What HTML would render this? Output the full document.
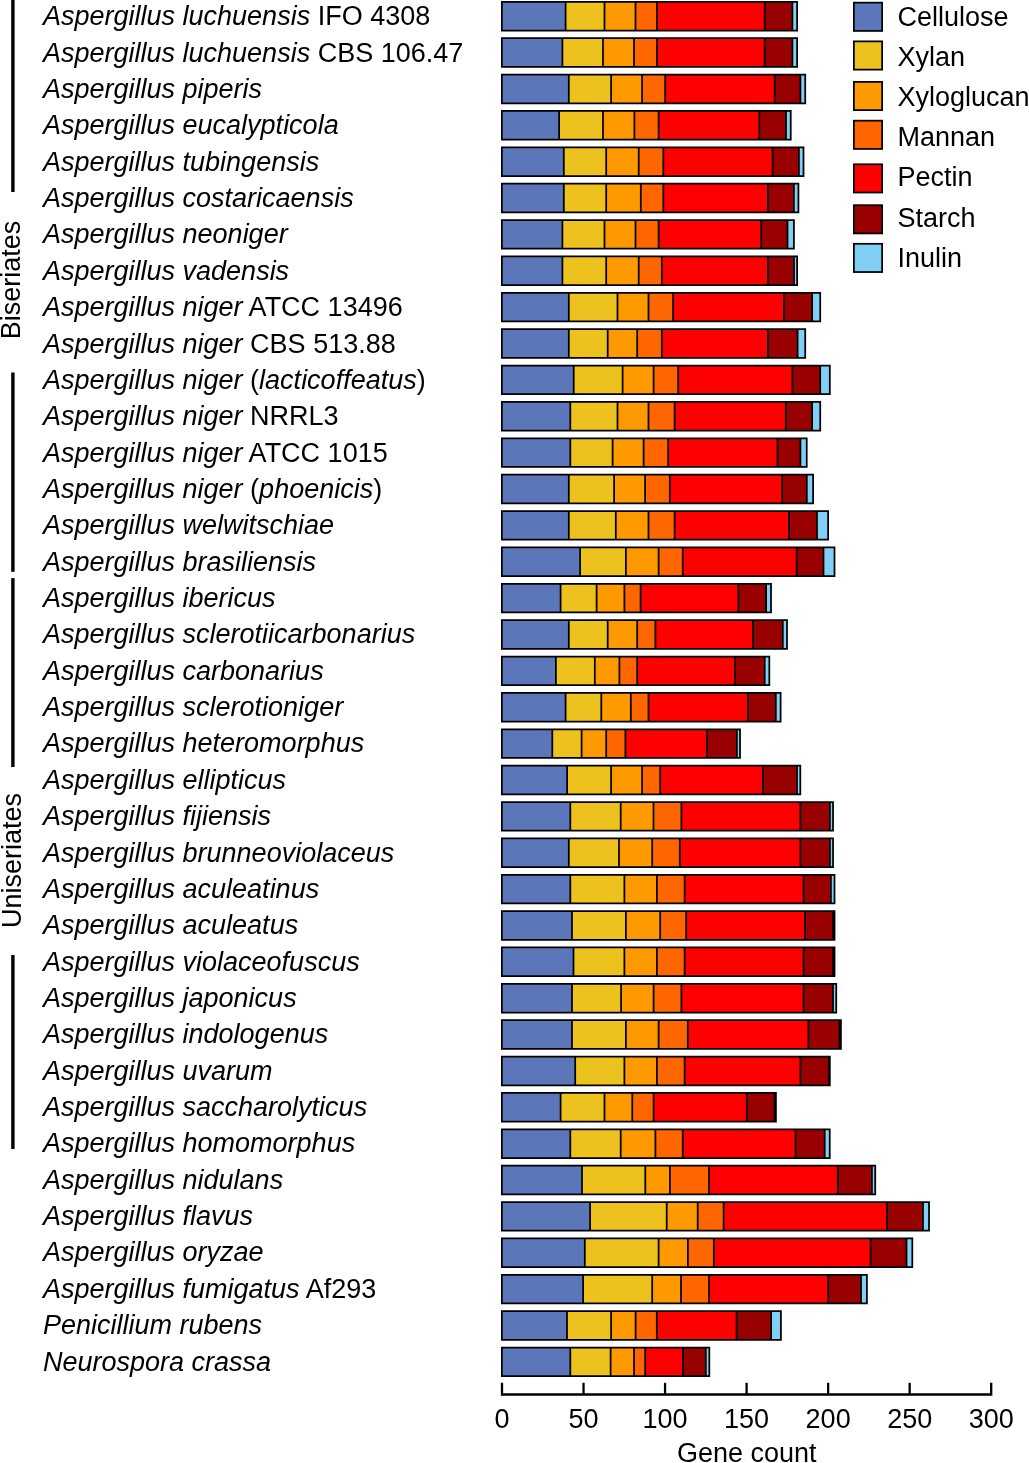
<!DOCTYPE html>
<html><head><meta charset="utf-8"><style>
html,body{margin:0;padding:0;background:#fff;}
svg{display:block;will-change:transform;}
text{font-family:"Liberation Sans",sans-serif;font-size:27px;fill:#000;}
.i{font-style:italic;}
</style></head><body>
<svg width="1029" height="1463" viewBox="0 0 1029 1463">

<rect x="11.2" y="0" width="3.4" height="192.0" fill="#000"/>
<rect x="11.2" y="372.5" width="3.4" height="199.3" fill="#000"/>
<rect x="11.2" y="578.1" width="3.4" height="188.9" fill="#000"/>
<rect x="11.2" y="955.0" width="3.4" height="194.0" fill="#000"/>
<text transform="translate(20,339.3) rotate(-90)">Biseriates</text>
<text transform="translate(20.5,928) rotate(-90)">Uniseriates</text>
<text x="43" y="25.30"><tspan class="i">Aspergillus luchuensis</tspan> IFO 4308</text>
<text x="43" y="61.66"><tspan class="i">Aspergillus luchuensis</tspan> CBS 106.47</text>
<text x="43" y="98.01" class="i">Aspergillus piperis</text>
<text x="43" y="134.37" class="i">Aspergillus eucalypticola</text>
<text x="43" y="170.73" class="i">Aspergillus tubingensis</text>
<text x="43" y="207.09" class="i">Aspergillus costaricaensis</text>
<text x="43" y="243.44" class="i">Aspergillus neoniger</text>
<text x="43" y="279.80" class="i">Aspergillus vadensis</text>
<text x="43" y="316.16"><tspan class="i">Aspergillus niger</tspan> ATCC 13496</text>
<text x="43" y="352.51"><tspan class="i">Aspergillus niger</tspan> CBS 513.88</text>
<text x="43" y="388.87"><tspan class="i">Aspergillus niger</tspan> (<tspan class="i">lacticoffeatus</tspan>)</text>
<text x="43" y="425.23"><tspan class="i">Aspergillus niger</tspan> NRRL3</text>
<text x="43" y="461.58"><tspan class="i">Aspergillus niger</tspan> ATCC 1015</text>
<text x="43" y="497.94"><tspan class="i">Aspergillus niger</tspan> (<tspan class="i">phoenicis</tspan>)</text>
<text x="43" y="534.30" class="i">Aspergillus welwitschiae</text>
<text x="43" y="570.65" class="i">Aspergillus brasiliensis</text>
<text x="43" y="607.01" class="i">Aspergillus ibericus</text>
<text x="43" y="643.37" class="i">Aspergillus sclerotiicarbonarius</text>
<text x="43" y="679.73" class="i">Aspergillus carbonarius</text>
<text x="43" y="716.08" class="i">Aspergillus sclerotioniger</text>
<text x="43" y="752.44" class="i">Aspergillus heteromorphus</text>
<text x="43" y="788.80" class="i">Aspergillus ellipticus</text>
<text x="43" y="825.15" class="i">Aspergillus fijiensis</text>
<text x="43" y="861.51" class="i">Aspergillus brunneoviolaceus</text>
<text x="43" y="897.87" class="i">Aspergillus aculeatinus</text>
<text x="43" y="934.22" class="i">Aspergillus aculeatus</text>
<text x="43" y="970.58" class="i">Aspergillus violaceofuscus</text>
<text x="43" y="1006.94" class="i">Aspergillus japonicus</text>
<text x="43" y="1043.30" class="i">Aspergillus indologenus</text>
<text x="43" y="1079.65" class="i">Aspergillus uvarum</text>
<text x="43" y="1116.01" class="i">Aspergillus saccharolyticus</text>
<text x="43" y="1152.37" class="i">Aspergillus homomorphus</text>
<text x="43" y="1188.72" class="i">Aspergillus nidulans</text>
<text x="43" y="1225.08" class="i">Aspergillus flavus</text>
<text x="43" y="1261.44" class="i">Aspergillus oryzae</text>
<text x="43" y="1297.79"><tspan class="i">Aspergillus fumigatus</tspan> Af293</text>
<text x="43" y="1334.15" class="i">Penicillium rubens</text>
<text x="43" y="1370.51" class="i">Neurospora crassa</text>
<rect x="501.88" y="1.88" width="63.73" height="28.65" fill="#5b77b9"/>
<rect x="565.60" y="1.88" width="38.90" height="28.65" fill="#edc21e"/>
<rect x="604.50" y="1.88" width="31.00" height="28.65" fill="#ff9900"/>
<rect x="635.50" y="1.88" width="21.40" height="28.65" fill="#ff6600"/>
<rect x="656.90" y="1.88" width="107.80" height="28.65" fill="#fe0000"/>
<rect x="764.70" y="1.88" width="27.70" height="28.65" fill="#990000"/>
<rect x="792.40" y="1.88" width="4.73" height="28.65" fill="#82cff5"/>
<path d="M501.88,1.88H797.12V30.52H501.88ZM565.60,1.88V30.52M604.50,1.88V30.52M635.50,1.88V30.52M656.90,1.88V30.52M764.70,1.88V30.52M792.40,1.88V30.52" fill="none" stroke="#000" stroke-width="1.75"/>
<rect x="501.88" y="38.24" width="60.52" height="28.65" fill="#5b77b9"/>
<rect x="562.40" y="38.24" width="40.60" height="28.65" fill="#edc21e"/>
<rect x="603.00" y="38.24" width="31.00" height="28.65" fill="#ff9900"/>
<rect x="634.00" y="38.24" width="22.90" height="28.65" fill="#ff6600"/>
<rect x="656.90" y="38.24" width="107.80" height="28.65" fill="#fe0000"/>
<rect x="764.70" y="38.24" width="27.70" height="28.65" fill="#990000"/>
<rect x="792.40" y="38.24" width="4.73" height="28.65" fill="#82cff5"/>
<path d="M501.88,38.24H797.12V66.89H501.88ZM562.40,38.24V66.89M603.00,38.24V66.89M634.00,38.24V66.89M656.90,38.24V66.89M764.70,38.24V66.89M792.40,38.24V66.89" fill="none" stroke="#000" stroke-width="1.75"/>
<rect x="501.88" y="74.61" width="66.92" height="28.65" fill="#5b77b9"/>
<rect x="568.80" y="74.61" width="42.30" height="28.65" fill="#edc21e"/>
<rect x="611.10" y="74.61" width="31.00" height="28.65" fill="#ff9900"/>
<rect x="642.10" y="74.61" width="23.10" height="28.65" fill="#ff6600"/>
<rect x="665.20" y="74.61" width="109.50" height="28.65" fill="#fe0000"/>
<rect x="774.70" y="74.61" width="25.70" height="28.65" fill="#990000"/>
<rect x="800.40" y="74.61" width="4.83" height="28.65" fill="#82cff5"/>
<path d="M501.88,74.61H805.23V103.26H501.88ZM568.80,74.61V103.26M611.10,74.61V103.26M642.10,74.61V103.26M665.20,74.61V103.26M774.70,74.61V103.26M800.40,74.61V103.26" fill="none" stroke="#000" stroke-width="1.75"/>
<rect x="501.88" y="110.98" width="57.23" height="28.65" fill="#5b77b9"/>
<rect x="559.10" y="110.98" width="43.90" height="28.65" fill="#edc21e"/>
<rect x="603.00" y="110.98" width="31.40" height="28.65" fill="#ff9900"/>
<rect x="634.40" y="110.98" width="24.20" height="28.65" fill="#ff6600"/>
<rect x="658.60" y="110.98" width="100.70" height="28.65" fill="#fe0000"/>
<rect x="759.30" y="110.98" width="26.70" height="28.65" fill="#990000"/>
<rect x="786.00" y="110.98" width="4.73" height="28.65" fill="#82cff5"/>
<path d="M501.88,110.98H790.73V139.63H501.88ZM559.10,110.98V139.63M603.00,110.98V139.63M634.40,110.98V139.63M658.60,110.98V139.63M759.30,110.98V139.63M786.00,110.98V139.63" fill="none" stroke="#000" stroke-width="1.75"/>
<rect x="501.88" y="147.35" width="61.92" height="28.65" fill="#5b77b9"/>
<rect x="563.80" y="147.35" width="42.40" height="28.65" fill="#edc21e"/>
<rect x="606.20" y="147.35" width="32.50" height="28.65" fill="#ff9900"/>
<rect x="638.70" y="147.35" width="24.60" height="28.65" fill="#ff6600"/>
<rect x="663.30" y="147.35" width="109.30" height="28.65" fill="#fe0000"/>
<rect x="772.60" y="147.35" width="26.30" height="28.65" fill="#990000"/>
<rect x="798.90" y="147.35" width="4.62" height="28.65" fill="#82cff5"/>
<path d="M501.88,147.35H803.52V176.00H501.88ZM563.80,147.35V176.00M606.20,147.35V176.00M638.70,147.35V176.00M663.30,147.35V176.00M772.60,147.35V176.00M798.90,147.35V176.00" fill="none" stroke="#000" stroke-width="1.75"/>
<rect x="501.88" y="183.72" width="61.92" height="28.65" fill="#5b77b9"/>
<rect x="563.80" y="183.72" width="42.40" height="28.65" fill="#edc21e"/>
<rect x="606.20" y="183.72" width="34.60" height="28.65" fill="#ff9900"/>
<rect x="640.80" y="183.72" width="22.50" height="28.65" fill="#ff6600"/>
<rect x="663.30" y="183.72" width="104.60" height="28.65" fill="#fe0000"/>
<rect x="767.90" y="183.72" width="26.00" height="28.65" fill="#990000"/>
<rect x="793.90" y="183.72" width="4.52" height="28.65" fill="#82cff5"/>
<path d="M501.88,183.72H798.42V212.38H501.88ZM563.80,183.72V212.38M606.20,183.72V212.38M640.80,183.72V212.38M663.30,183.72V212.38M767.90,183.72V212.38M793.90,183.72V212.38" fill="none" stroke="#000" stroke-width="1.75"/>
<rect x="501.88" y="220.09" width="60.52" height="28.65" fill="#5b77b9"/>
<rect x="562.40" y="220.09" width="42.10" height="28.65" fill="#edc21e"/>
<rect x="604.50" y="220.09" width="31.00" height="28.65" fill="#ff9900"/>
<rect x="635.50" y="220.09" width="23.10" height="28.65" fill="#ff6600"/>
<rect x="658.60" y="220.09" width="102.60" height="28.65" fill="#fe0000"/>
<rect x="761.20" y="220.09" width="26.30" height="28.65" fill="#990000"/>
<rect x="787.50" y="220.09" width="6.42" height="28.65" fill="#82cff5"/>
<path d="M501.88,220.09H793.92V248.74H501.88ZM562.40,220.09V248.74M604.50,220.09V248.74M635.50,220.09V248.74M658.60,220.09V248.74M761.20,220.09V248.74M787.50,220.09V248.74" fill="none" stroke="#000" stroke-width="1.75"/>
<rect x="501.88" y="256.46" width="60.52" height="28.65" fill="#5b77b9"/>
<rect x="562.40" y="256.46" width="43.80" height="28.65" fill="#edc21e"/>
<rect x="606.20" y="256.46" width="32.50" height="28.65" fill="#ff9900"/>
<rect x="638.70" y="256.46" width="23.10" height="28.65" fill="#ff6600"/>
<rect x="661.80" y="256.46" width="106.10" height="28.65" fill="#fe0000"/>
<rect x="767.90" y="256.46" width="26.10" height="28.65" fill="#990000"/>
<rect x="794.00" y="256.46" width="3.12" height="28.65" fill="#82cff5"/>
<path d="M501.88,256.46H797.12V285.11H501.88ZM562.40,256.46V285.11M606.20,256.46V285.11M638.70,256.46V285.11M661.80,256.46V285.11M767.90,256.46V285.11M794.00,256.46V285.11" fill="none" stroke="#000" stroke-width="1.75"/>
<rect x="501.88" y="292.83" width="66.92" height="28.65" fill="#5b77b9"/>
<rect x="568.80" y="292.83" width="48.70" height="28.65" fill="#edc21e"/>
<rect x="617.50" y="292.83" width="31.00" height="28.65" fill="#ff9900"/>
<rect x="648.50" y="292.83" width="24.60" height="28.65" fill="#ff6600"/>
<rect x="673.10" y="292.83" width="110.80" height="28.65" fill="#fe0000"/>
<rect x="783.90" y="292.83" width="28.20" height="28.65" fill="#990000"/>
<rect x="812.10" y="292.83" width="8.12" height="28.65" fill="#82cff5"/>
<path d="M501.88,292.83H820.23V321.48H501.88ZM568.80,292.83V321.48M617.50,292.83V321.48M648.50,292.83V321.48M673.10,292.83V321.48M783.90,292.83V321.48M812.10,292.83V321.48" fill="none" stroke="#000" stroke-width="1.75"/>
<rect x="501.88" y="329.20" width="66.92" height="28.65" fill="#5b77b9"/>
<rect x="568.80" y="329.20" width="38.90" height="28.65" fill="#edc21e"/>
<rect x="607.70" y="329.20" width="29.50" height="28.65" fill="#ff9900"/>
<rect x="637.20" y="329.20" width="24.60" height="28.65" fill="#ff6600"/>
<rect x="661.80" y="329.20" width="106.10" height="28.65" fill="#fe0000"/>
<rect x="767.90" y="329.20" width="29.70" height="28.65" fill="#990000"/>
<rect x="797.60" y="329.20" width="7.62" height="28.65" fill="#82cff5"/>
<path d="M501.88,329.20H805.23V357.85H501.88ZM568.80,329.20V357.85M607.70,329.20V357.85M637.20,329.20V357.85M661.80,329.20V357.85M767.90,329.20V357.85M797.60,329.20V357.85" fill="none" stroke="#000" stroke-width="1.75"/>
<rect x="501.88" y="365.57" width="71.83" height="28.65" fill="#5b77b9"/>
<rect x="573.70" y="365.57" width="48.90" height="28.65" fill="#edc21e"/>
<rect x="622.60" y="365.57" width="31.00" height="28.65" fill="#ff9900"/>
<rect x="653.60" y="365.57" width="24.60" height="28.65" fill="#ff6600"/>
<rect x="678.20" y="365.57" width="114.20" height="28.65" fill="#fe0000"/>
<rect x="792.40" y="365.57" width="27.80" height="28.65" fill="#990000"/>
<rect x="820.20" y="365.57" width="9.62" height="28.65" fill="#82cff5"/>
<path d="M501.88,365.57H829.82V394.22H501.88ZM573.70,365.57V394.22M622.60,365.57V394.22M653.60,365.57V394.22M678.20,365.57V394.22M792.40,365.57V394.22M820.20,365.57V394.22" fill="none" stroke="#000" stroke-width="1.75"/>
<rect x="501.88" y="401.94" width="68.42" height="28.65" fill="#5b77b9"/>
<rect x="570.30" y="401.94" width="47.20" height="28.65" fill="#edc21e"/>
<rect x="617.50" y="401.94" width="31.00" height="28.65" fill="#ff9900"/>
<rect x="648.50" y="401.94" width="26.10" height="28.65" fill="#ff6600"/>
<rect x="674.60" y="401.94" width="111.20" height="28.65" fill="#fe0000"/>
<rect x="785.80" y="401.94" width="26.30" height="28.65" fill="#990000"/>
<rect x="812.10" y="401.94" width="8.12" height="28.65" fill="#82cff5"/>
<path d="M501.88,401.94H820.23V430.59H501.88ZM570.30,401.94V430.59M617.50,401.94V430.59M648.50,401.94V430.59M674.60,401.94V430.59M785.80,401.94V430.59M812.10,401.94V430.59" fill="none" stroke="#000" stroke-width="1.75"/>
<rect x="501.88" y="438.31" width="68.42" height="28.65" fill="#5b77b9"/>
<rect x="570.30" y="438.31" width="42.30" height="28.65" fill="#edc21e"/>
<rect x="612.60" y="438.31" width="31.00" height="28.65" fill="#ff9900"/>
<rect x="643.60" y="438.31" width="24.60" height="28.65" fill="#ff6600"/>
<rect x="668.20" y="438.31" width="109.30" height="28.65" fill="#fe0000"/>
<rect x="777.50" y="438.31" width="22.90" height="28.65" fill="#990000"/>
<rect x="800.40" y="438.31" width="6.33" height="28.65" fill="#82cff5"/>
<path d="M501.88,438.31H806.73V466.96H501.88ZM570.30,438.31V466.96M612.60,438.31V466.96M643.60,438.31V466.96M668.20,438.31V466.96M777.50,438.31V466.96M800.40,438.31V466.96" fill="none" stroke="#000" stroke-width="1.75"/>
<rect x="501.88" y="474.68" width="66.92" height="28.65" fill="#5b77b9"/>
<rect x="568.80" y="474.68" width="45.30" height="28.65" fill="#edc21e"/>
<rect x="614.10" y="474.68" width="31.00" height="28.65" fill="#ff9900"/>
<rect x="645.10" y="474.68" width="24.70" height="28.65" fill="#ff6600"/>
<rect x="669.80" y="474.68" width="112.40" height="28.65" fill="#fe0000"/>
<rect x="782.20" y="474.68" width="24.60" height="28.65" fill="#990000"/>
<rect x="806.80" y="474.68" width="6.33" height="28.65" fill="#82cff5"/>
<path d="M501.88,474.68H813.12V503.33H501.88ZM568.80,474.68V503.33M614.10,474.68V503.33M645.10,474.68V503.33M669.80,474.68V503.33M782.20,474.68V503.33M806.80,474.68V503.33" fill="none" stroke="#000" stroke-width="1.75"/>
<rect x="501.88" y="511.05" width="66.92" height="28.65" fill="#5b77b9"/>
<rect x="568.80" y="511.05" width="47.00" height="28.65" fill="#edc21e"/>
<rect x="615.80" y="511.05" width="32.70" height="28.65" fill="#ff9900"/>
<rect x="648.50" y="511.05" width="26.10" height="28.65" fill="#ff6600"/>
<rect x="674.60" y="511.05" width="114.40" height="28.65" fill="#fe0000"/>
<rect x="789.00" y="511.05" width="28.00" height="28.65" fill="#990000"/>
<rect x="817.00" y="511.05" width="11.12" height="28.65" fill="#82cff5"/>
<path d="M501.88,511.05H828.12V539.70H501.88ZM568.80,511.05V539.70M615.80,511.05V539.70M648.50,511.05V539.70M674.60,511.05V539.70M789.00,511.05V539.70M817.00,511.05V539.70" fill="none" stroke="#000" stroke-width="1.75"/>
<rect x="501.88" y="547.42" width="78.23" height="28.65" fill="#5b77b9"/>
<rect x="580.10" y="547.42" width="45.80" height="28.65" fill="#edc21e"/>
<rect x="625.90" y="547.42" width="32.70" height="28.65" fill="#ff9900"/>
<rect x="658.60" y="547.42" width="24.10" height="28.65" fill="#ff6600"/>
<rect x="682.70" y="547.42" width="114.00" height="28.65" fill="#fe0000"/>
<rect x="796.70" y="547.42" width="26.80" height="28.65" fill="#990000"/>
<rect x="823.50" y="547.42" width="11.02" height="28.65" fill="#82cff5"/>
<path d="M501.88,547.42H834.52V576.07H501.88ZM580.10,547.42V576.07M625.90,547.42V576.07M658.60,547.42V576.07M682.70,547.42V576.07M796.70,547.42V576.07M823.50,547.42V576.07" fill="none" stroke="#000" stroke-width="1.75"/>
<rect x="501.88" y="583.79" width="58.73" height="28.65" fill="#5b77b9"/>
<rect x="560.60" y="583.79" width="36.00" height="28.65" fill="#edc21e"/>
<rect x="596.60" y="583.79" width="27.80" height="28.65" fill="#ff9900"/>
<rect x="624.40" y="583.79" width="16.20" height="28.65" fill="#ff6600"/>
<rect x="640.60" y="583.79" width="97.80" height="28.65" fill="#fe0000"/>
<rect x="738.40" y="583.79" width="27.70" height="28.65" fill="#990000"/>
<rect x="766.10" y="583.79" width="4.92" height="28.65" fill="#82cff5"/>
<path d="M501.88,583.79H771.02V612.44H501.88ZM560.60,583.79V612.44M596.60,583.79V612.44M624.40,583.79V612.44M640.60,583.79V612.44M738.40,583.79V612.44M766.10,583.79V612.44" fill="none" stroke="#000" stroke-width="1.75"/>
<rect x="501.88" y="620.16" width="66.92" height="28.65" fill="#5b77b9"/>
<rect x="568.80" y="620.16" width="38.90" height="28.65" fill="#edc21e"/>
<rect x="607.70" y="620.16" width="29.50" height="28.65" fill="#ff9900"/>
<rect x="637.20" y="620.16" width="18.20" height="28.65" fill="#ff6600"/>
<rect x="655.40" y="620.16" width="97.50" height="28.65" fill="#fe0000"/>
<rect x="752.90" y="620.16" width="29.90" height="28.65" fill="#990000"/>
<rect x="782.80" y="620.16" width="4.23" height="28.65" fill="#82cff5"/>
<path d="M501.88,620.16H787.02V648.81H501.88ZM568.80,620.16V648.81M607.70,620.16V648.81M637.20,620.16V648.81M655.40,620.16V648.81M752.90,620.16V648.81M782.80,620.16V648.81" fill="none" stroke="#000" stroke-width="1.75"/>
<rect x="501.88" y="656.53" width="54.02" height="28.65" fill="#5b77b9"/>
<rect x="555.90" y="656.53" width="38.90" height="28.65" fill="#edc21e"/>
<rect x="594.80" y="656.53" width="24.60" height="28.65" fill="#ff9900"/>
<rect x="619.40" y="656.53" width="17.80" height="28.65" fill="#ff6600"/>
<rect x="637.20" y="656.53" width="97.90" height="28.65" fill="#fe0000"/>
<rect x="735.10" y="656.53" width="29.60" height="28.65" fill="#990000"/>
<rect x="764.70" y="656.53" width="4.62" height="28.65" fill="#82cff5"/>
<path d="M501.88,656.53H769.32V685.18H501.88ZM555.90,656.53V685.18M594.80,656.53V685.18M619.40,656.53V685.18M637.20,656.53V685.18M735.10,656.53V685.18M764.70,656.53V685.18" fill="none" stroke="#000" stroke-width="1.75"/>
<rect x="501.88" y="692.90" width="63.73" height="28.65" fill="#5b77b9"/>
<rect x="565.60" y="692.90" width="35.70" height="28.65" fill="#edc21e"/>
<rect x="601.30" y="692.90" width="29.50" height="28.65" fill="#ff9900"/>
<rect x="630.80" y="692.90" width="17.70" height="28.65" fill="#ff6600"/>
<rect x="648.50" y="692.90" width="99.50" height="28.65" fill="#fe0000"/>
<rect x="748.00" y="692.90" width="27.80" height="28.65" fill="#990000"/>
<rect x="775.80" y="692.90" width="4.83" height="28.65" fill="#82cff5"/>
<path d="M501.88,692.90H780.62V721.55H501.88ZM565.60,692.90V721.55M601.30,692.90V721.55M630.80,692.90V721.55M648.50,692.90V721.55M748.00,692.90V721.55M775.80,692.90V721.55" fill="none" stroke="#000" stroke-width="1.75"/>
<rect x="501.88" y="729.27" width="50.42" height="28.65" fill="#5b77b9"/>
<rect x="552.30" y="729.27" width="29.30" height="28.65" fill="#edc21e"/>
<rect x="581.60" y="729.27" width="24.60" height="28.65" fill="#ff9900"/>
<rect x="606.20" y="729.27" width="19.20" height="28.65" fill="#ff6600"/>
<rect x="625.40" y="729.27" width="81.70" height="28.65" fill="#fe0000"/>
<rect x="707.10" y="729.27" width="29.80" height="28.65" fill="#990000"/>
<rect x="736.90" y="729.27" width="3.12" height="28.65" fill="#82cff5"/>
<path d="M501.88,729.27H740.02V757.92H501.88ZM552.30,729.27V757.92M581.60,729.27V757.92M606.20,729.27V757.92M625.40,729.27V757.92M707.10,729.27V757.92M736.90,729.27V757.92" fill="none" stroke="#000" stroke-width="1.75"/>
<rect x="501.88" y="765.64" width="65.23" height="28.65" fill="#5b77b9"/>
<rect x="567.10" y="765.64" width="44.00" height="28.65" fill="#edc21e"/>
<rect x="611.10" y="765.64" width="31.00" height="28.65" fill="#ff9900"/>
<rect x="642.10" y="765.64" width="18.10" height="28.65" fill="#ff6600"/>
<rect x="660.20" y="765.64" width="102.70" height="28.65" fill="#fe0000"/>
<rect x="762.90" y="765.64" width="34.10" height="28.65" fill="#990000"/>
<rect x="797.00" y="765.64" width="3.32" height="28.65" fill="#82cff5"/>
<path d="M501.88,765.64H800.32V794.29H501.88ZM567.10,765.64V794.29M611.10,765.64V794.29M642.10,765.64V794.29M660.20,765.64V794.29M762.90,765.64V794.29M797.00,765.64V794.29" fill="none" stroke="#000" stroke-width="1.75"/>
<rect x="501.88" y="802.01" width="68.42" height="28.65" fill="#5b77b9"/>
<rect x="570.30" y="802.01" width="50.40" height="28.65" fill="#edc21e"/>
<rect x="620.70" y="802.01" width="32.80" height="28.65" fill="#ff9900"/>
<rect x="653.50" y="802.01" width="27.90" height="28.65" fill="#ff6600"/>
<rect x="681.40" y="802.01" width="119.00" height="28.65" fill="#fe0000"/>
<rect x="800.40" y="802.01" width="29.50" height="28.65" fill="#990000"/>
<rect x="829.90" y="802.01" width="3.12" height="28.65" fill="#82cff5"/>
<path d="M501.88,802.01H833.02V830.66H501.88ZM570.30,802.01V830.66M620.70,802.01V830.66M653.50,802.01V830.66M681.40,802.01V830.66M800.40,802.01V830.66M829.90,802.01V830.66" fill="none" stroke="#000" stroke-width="1.75"/>
<rect x="501.88" y="838.38" width="66.92" height="28.65" fill="#5b77b9"/>
<rect x="568.80" y="838.38" width="50.20" height="28.65" fill="#edc21e"/>
<rect x="619.00" y="838.38" width="33.20" height="28.65" fill="#ff9900"/>
<rect x="652.20" y="838.38" width="27.60" height="28.65" fill="#ff6600"/>
<rect x="679.80" y="838.38" width="120.60" height="28.65" fill="#fe0000"/>
<rect x="800.40" y="838.38" width="29.50" height="28.65" fill="#990000"/>
<rect x="829.90" y="838.38" width="3.12" height="28.65" fill="#82cff5"/>
<path d="M501.88,838.38H833.02V867.03H501.88ZM568.80,838.38V867.03M619.00,838.38V867.03M652.20,838.38V867.03M679.80,838.38V867.03M800.40,838.38V867.03M829.90,838.38V867.03" fill="none" stroke="#000" stroke-width="1.75"/>
<rect x="501.88" y="874.75" width="68.42" height="28.65" fill="#5b77b9"/>
<rect x="570.30" y="874.75" width="54.10" height="28.65" fill="#edc21e"/>
<rect x="624.40" y="874.75" width="32.50" height="28.65" fill="#ff9900"/>
<rect x="656.90" y="874.75" width="27.70" height="28.65" fill="#ff6600"/>
<rect x="684.60" y="874.75" width="119.00" height="28.65" fill="#fe0000"/>
<rect x="803.60" y="874.75" width="27.30" height="28.65" fill="#990000"/>
<rect x="830.90" y="874.75" width="3.62" height="28.65" fill="#82cff5"/>
<path d="M501.88,874.75H834.52V903.40H501.88ZM570.30,874.75V903.40M624.40,874.75V903.40M656.90,874.75V903.40M684.60,874.75V903.40M803.60,874.75V903.40M830.90,874.75V903.40" fill="none" stroke="#000" stroke-width="1.75"/>
<rect x="501.88" y="911.12" width="70.12" height="28.65" fill="#5b77b9"/>
<rect x="572.00" y="911.12" width="53.90" height="28.65" fill="#edc21e"/>
<rect x="625.90" y="911.12" width="34.30" height="28.65" fill="#ff9900"/>
<rect x="660.20" y="911.12" width="26.00" height="28.65" fill="#ff6600"/>
<rect x="686.20" y="911.12" width="118.90" height="28.65" fill="#fe0000"/>
<rect x="805.10" y="911.12" width="28.00" height="28.65" fill="#990000"/>
<rect x="833.10" y="911.12" width="1.42" height="28.65" fill="#82cff5"/>
<path d="M501.88,911.12H834.52V939.77H501.88ZM572.00,911.12V939.77M625.90,911.12V939.77M660.20,911.12V939.77M686.20,911.12V939.77M805.10,911.12V939.77M833.10,911.12V939.77" fill="none" stroke="#000" stroke-width="1.75"/>
<rect x="501.88" y="947.49" width="71.62" height="28.65" fill="#5b77b9"/>
<rect x="573.50" y="947.49" width="50.90" height="28.65" fill="#edc21e"/>
<rect x="624.40" y="947.49" width="32.50" height="28.65" fill="#ff9900"/>
<rect x="656.90" y="947.49" width="27.70" height="28.65" fill="#ff6600"/>
<rect x="684.60" y="947.49" width="119.00" height="28.65" fill="#fe0000"/>
<rect x="803.60" y="947.49" width="29.50" height="28.65" fill="#990000"/>
<rect x="833.10" y="947.49" width="1.42" height="28.65" fill="#82cff5"/>
<path d="M501.88,947.49H834.52V976.14H501.88ZM573.50,947.49V976.14M624.40,947.49V976.14M656.90,947.49V976.14M684.60,947.49V976.14M803.60,947.49V976.14M833.10,947.49V976.14" fill="none" stroke="#000" stroke-width="1.75"/>
<rect x="501.88" y="983.86" width="70.12" height="28.65" fill="#5b77b9"/>
<rect x="572.00" y="983.86" width="49.10" height="28.65" fill="#edc21e"/>
<rect x="621.10" y="983.86" width="32.50" height="28.65" fill="#ff9900"/>
<rect x="653.60" y="983.86" width="27.80" height="28.65" fill="#ff6600"/>
<rect x="681.40" y="983.86" width="122.20" height="28.65" fill="#fe0000"/>
<rect x="803.60" y="983.86" width="29.40" height="28.65" fill="#990000"/>
<rect x="833.00" y="983.86" width="3.23" height="28.65" fill="#82cff5"/>
<path d="M501.88,983.86H836.23V1012.51H501.88ZM572.00,983.86V1012.51M621.10,983.86V1012.51M653.60,983.86V1012.51M681.40,983.86V1012.51M803.60,983.86V1012.51M833.00,983.86V1012.51" fill="none" stroke="#000" stroke-width="1.75"/>
<rect x="501.88" y="1020.23" width="70.12" height="28.65" fill="#5b77b9"/>
<rect x="572.00" y="1020.23" width="53.90" height="28.65" fill="#edc21e"/>
<rect x="625.90" y="1020.23" width="32.70" height="28.65" fill="#ff9900"/>
<rect x="658.60" y="1020.23" width="29.20" height="28.65" fill="#ff6600"/>
<rect x="687.80" y="1020.23" width="120.70" height="28.65" fill="#fe0000"/>
<rect x="808.50" y="1020.23" width="31.00" height="28.65" fill="#990000"/>
<rect x="839.50" y="1020.23" width="1.42" height="28.65" fill="#82cff5"/>
<path d="M501.88,1020.23H840.92V1048.88H501.88ZM572.00,1020.23V1048.88M625.90,1020.23V1048.88M658.60,1020.23V1048.88M687.80,1020.23V1048.88M808.50,1020.23V1048.88M839.50,1020.23V1048.88" fill="none" stroke="#000" stroke-width="1.75"/>
<rect x="501.88" y="1056.61" width="73.33" height="28.65" fill="#5b77b9"/>
<rect x="575.20" y="1056.61" width="49.20" height="28.65" fill="#edc21e"/>
<rect x="624.40" y="1056.61" width="32.50" height="28.65" fill="#ff9900"/>
<rect x="656.90" y="1056.61" width="27.70" height="28.65" fill="#ff6600"/>
<rect x="684.60" y="1056.61" width="115.80" height="28.65" fill="#fe0000"/>
<rect x="800.40" y="1056.61" width="28.50" height="28.65" fill="#990000"/>
<rect x="828.90" y="1056.61" width="0.92" height="28.65" fill="#82cff5"/>
<path d="M501.88,1056.61H829.82V1085.26H501.88ZM575.20,1056.61V1085.26M624.40,1056.61V1085.26M656.90,1056.61V1085.26M684.60,1056.61V1085.26M800.40,1056.61V1085.26M828.90,1056.61V1085.26" fill="none" stroke="#000" stroke-width="1.75"/>
<rect x="501.88" y="1092.97" width="58.73" height="28.65" fill="#5b77b9"/>
<rect x="560.60" y="1092.97" width="43.90" height="28.65" fill="#edc21e"/>
<rect x="604.50" y="1092.97" width="27.80" height="28.65" fill="#ff9900"/>
<rect x="632.30" y="1092.97" width="21.30" height="28.65" fill="#ff6600"/>
<rect x="653.60" y="1092.97" width="93.20" height="28.65" fill="#fe0000"/>
<rect x="746.80" y="1092.97" width="27.80" height="28.65" fill="#990000"/>
<rect x="774.60" y="1092.97" width="1.32" height="28.65" fill="#82cff5"/>
<path d="M501.88,1092.97H775.92V1121.62H501.88ZM560.60,1092.97V1121.62M604.50,1092.97V1121.62M632.30,1092.97V1121.62M653.60,1092.97V1121.62M746.80,1092.97V1121.62M774.60,1092.97V1121.62" fill="none" stroke="#000" stroke-width="1.75"/>
<rect x="501.88" y="1129.35" width="68.42" height="28.65" fill="#5b77b9"/>
<rect x="570.30" y="1129.35" width="50.40" height="28.65" fill="#edc21e"/>
<rect x="620.70" y="1129.35" width="34.70" height="28.65" fill="#ff9900"/>
<rect x="655.40" y="1129.35" width="27.30" height="28.65" fill="#ff6600"/>
<rect x="682.70" y="1129.35" width="112.90" height="28.65" fill="#fe0000"/>
<rect x="795.60" y="1129.35" width="29.10" height="28.65" fill="#990000"/>
<rect x="824.70" y="1129.35" width="5.02" height="28.65" fill="#82cff5"/>
<path d="M501.88,1129.35H829.73V1158.00H501.88ZM570.30,1129.35V1158.00M620.70,1129.35V1158.00M655.40,1129.35V1158.00M682.70,1129.35V1158.00M795.60,1129.35V1158.00M824.70,1129.35V1158.00" fill="none" stroke="#000" stroke-width="1.75"/>
<rect x="501.88" y="1165.71" width="80.12" height="28.65" fill="#5b77b9"/>
<rect x="582.00" y="1165.71" width="63.30" height="28.65" fill="#edc21e"/>
<rect x="645.30" y="1165.71" width="24.60" height="28.65" fill="#ff9900"/>
<rect x="669.90" y="1165.71" width="39.10" height="28.65" fill="#ff6600"/>
<rect x="709.00" y="1165.71" width="128.80" height="28.65" fill="#fe0000"/>
<rect x="837.80" y="1165.71" width="34.10" height="28.65" fill="#990000"/>
<rect x="871.90" y="1165.71" width="3.33" height="28.65" fill="#82cff5"/>
<path d="M501.88,1165.71H875.23V1194.37H501.88ZM582.00,1165.71V1194.37M645.30,1165.71V1194.37M669.90,1165.71V1194.37M709.00,1165.71V1194.37M837.80,1165.71V1194.37M871.90,1165.71V1194.37" fill="none" stroke="#000" stroke-width="1.75"/>
<rect x="501.88" y="1202.08" width="88.23" height="28.65" fill="#5b77b9"/>
<rect x="590.10" y="1202.08" width="76.60" height="28.65" fill="#edc21e"/>
<rect x="666.70" y="1202.08" width="31.00" height="28.65" fill="#ff9900"/>
<rect x="697.70" y="1202.08" width="25.90" height="28.65" fill="#ff6600"/>
<rect x="723.60" y="1202.08" width="163.50" height="28.65" fill="#fe0000"/>
<rect x="887.10" y="1202.08" width="35.90" height="28.65" fill="#990000"/>
<rect x="923.00" y="1202.08" width="6.02" height="28.65" fill="#82cff5"/>
<path d="M501.88,1202.08H929.02V1230.73H501.88ZM590.10,1202.08V1230.73M666.70,1202.08V1230.73M697.70,1202.08V1230.73M723.60,1202.08V1230.73M887.10,1202.08V1230.73M923.00,1202.08V1230.73" fill="none" stroke="#000" stroke-width="1.75"/>
<rect x="501.88" y="1238.45" width="82.92" height="28.65" fill="#5b77b9"/>
<rect x="584.80" y="1238.45" width="73.80" height="28.65" fill="#edc21e"/>
<rect x="658.60" y="1238.45" width="29.30" height="28.65" fill="#ff9900"/>
<rect x="687.90" y="1238.45" width="25.90" height="28.65" fill="#ff6600"/>
<rect x="713.80" y="1238.45" width="156.80" height="28.65" fill="#fe0000"/>
<rect x="870.60" y="1238.45" width="35.90" height="28.65" fill="#990000"/>
<rect x="906.50" y="1238.45" width="5.82" height="28.65" fill="#82cff5"/>
<path d="M501.88,1238.45H912.32V1267.11H501.88ZM584.80,1238.45V1267.11M658.60,1238.45V1267.11M687.90,1238.45V1267.11M713.80,1238.45V1267.11M870.60,1238.45V1267.11M906.50,1238.45V1267.11" fill="none" stroke="#000" stroke-width="1.75"/>
<rect x="501.88" y="1274.82" width="81.23" height="28.65" fill="#5b77b9"/>
<rect x="583.10" y="1274.82" width="69.10" height="28.65" fill="#edc21e"/>
<rect x="652.20" y="1274.82" width="28.80" height="28.65" fill="#ff9900"/>
<rect x="681.00" y="1274.82" width="28.00" height="28.65" fill="#ff6600"/>
<rect x="709.00" y="1274.82" width="119.20" height="28.65" fill="#fe0000"/>
<rect x="828.20" y="1274.82" width="32.80" height="28.65" fill="#990000"/>
<rect x="861.00" y="1274.82" width="5.92" height="28.65" fill="#82cff5"/>
<path d="M501.88,1274.82H866.92V1303.47H501.88ZM583.10,1274.82V1303.47M652.20,1274.82V1303.47M681.00,1274.82V1303.47M709.00,1274.82V1303.47M828.20,1274.82V1303.47M861.00,1274.82V1303.47" fill="none" stroke="#000" stroke-width="1.75"/>
<rect x="501.88" y="1311.19" width="65.12" height="28.65" fill="#5b77b9"/>
<rect x="567.00" y="1311.19" width="44.10" height="28.65" fill="#edc21e"/>
<rect x="611.10" y="1311.19" width="24.50" height="28.65" fill="#ff9900"/>
<rect x="635.60" y="1311.19" width="21.20" height="28.65" fill="#ff6600"/>
<rect x="656.80" y="1311.19" width="79.80" height="28.65" fill="#fe0000"/>
<rect x="736.60" y="1311.19" width="34.50" height="28.65" fill="#990000"/>
<rect x="771.10" y="1311.19" width="9.82" height="28.65" fill="#82cff5"/>
<path d="M501.88,1311.19H780.92V1339.85H501.88ZM567.00,1311.19V1339.85M611.10,1311.19V1339.85M635.60,1311.19V1339.85M656.80,1311.19V1339.85M736.60,1311.19V1339.85M771.10,1311.19V1339.85" fill="none" stroke="#000" stroke-width="1.75"/>
<rect x="501.88" y="1347.56" width="68.42" height="28.65" fill="#5b77b9"/>
<rect x="570.30" y="1347.56" width="40.30" height="28.65" fill="#edc21e"/>
<rect x="610.60" y="1347.56" width="23.40" height="28.65" fill="#ff9900"/>
<rect x="634.00" y="1347.56" width="11.20" height="28.65" fill="#ff6600"/>
<rect x="645.20" y="1347.56" width="37.70" height="28.65" fill="#fe0000"/>
<rect x="682.90" y="1347.56" width="22.90" height="28.65" fill="#990000"/>
<rect x="705.80" y="1347.56" width="3.52" height="28.65" fill="#82cff5"/>
<path d="M501.88,1347.56H709.32V1376.21H501.88ZM570.30,1347.56V1376.21M610.60,1347.56V1376.21M634.00,1347.56V1376.21M645.20,1347.56V1376.21M682.90,1347.56V1376.21M705.80,1347.56V1376.21" fill="none" stroke="#000" stroke-width="1.75"/>
<rect x="853.88" y="2.67" width="28.25" height="28.25" fill="#5b77b9" stroke="#000" stroke-width="1.75"/>
<text x="897.4" y="26.0">Cellulose</text>
<rect x="853.88" y="41.38" width="28.25" height="28.25" fill="#edc21e" stroke="#000" stroke-width="1.75"/>
<text x="897.4" y="66.1">Xylan</text>
<rect x="853.88" y="81.88" width="28.25" height="28.25" fill="#ff9900" stroke="#000" stroke-width="1.75"/>
<text x="897.4" y="106.2">Xyloglucan</text>
<rect x="853.88" y="120.67" width="28.25" height="28.25" fill="#ff6600" stroke="#000" stroke-width="1.75"/>
<text x="897.4" y="146.3">Mannan</text>
<rect x="853.88" y="164.28" width="28.25" height="28.25" fill="#fe0000" stroke="#000" stroke-width="1.75"/>
<text x="897.4" y="186.4">Pectin</text>
<rect x="853.88" y="205.18" width="28.25" height="28.25" fill="#990000" stroke="#000" stroke-width="1.75"/>
<text x="897.4" y="226.5">Starch</text>
<rect x="853.88" y="243.78" width="28.25" height="28.25" fill="#82cff5" stroke="#000" stroke-width="1.75"/>
<text x="897.4" y="266.6">Inulin</text>
<path d="M502,1382.8 V1394.5 H991.2 V1382.8" fill="none" stroke="#000" stroke-width="2.3" stroke-linejoin="miter"/>
<line x1="583.53" y1="1382.8" x2="583.53" y2="1394.5" stroke="#000" stroke-width="2.3"/>
<line x1="665.07" y1="1382.8" x2="665.07" y2="1394.5" stroke="#000" stroke-width="2.3"/>
<line x1="746.60" y1="1382.8" x2="746.60" y2="1394.5" stroke="#000" stroke-width="2.3"/>
<line x1="828.13" y1="1382.8" x2="828.13" y2="1394.5" stroke="#000" stroke-width="2.3"/>
<line x1="909.67" y1="1382.8" x2="909.67" y2="1394.5" stroke="#000" stroke-width="2.3"/>
<text x="502.00" y="1428.4" text-anchor="middle">0</text>
<text x="583.53" y="1428.4" text-anchor="middle">50</text>
<text x="665.07" y="1428.4" text-anchor="middle">100</text>
<text x="746.60" y="1428.4" text-anchor="middle">150</text>
<text x="828.13" y="1428.4" text-anchor="middle">200</text>
<text x="909.67" y="1428.4" text-anchor="middle">250</text>
<text x="991.20" y="1428.4" text-anchor="middle">300</text>
<text x="746.8" y="1462" text-anchor="middle">Gene count</text>
</svg></body></html>
